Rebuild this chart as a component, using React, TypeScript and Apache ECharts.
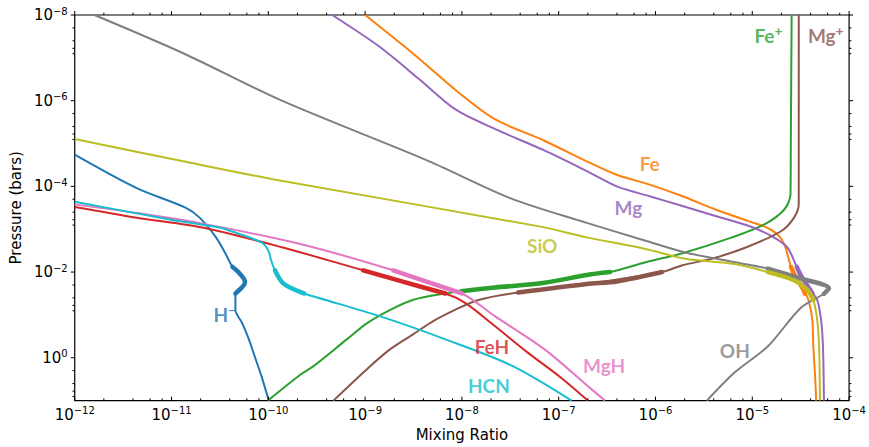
import React, { useEffect, useRef } from "react";
import * as echarts from "echarts";

// every point is [mixing ratio, pressure in bars]
type Pt = [number, number];

const X_MIN = 1e-12;
const X_MAX = 1e-4;
const P_MIN = 1e-8;
const P_MAX = 10;

const H_MINUS: Pt[] = [
  [1e-12, 1.82e-5], [4.37e-12, 1.1e-4], [1.41e-11, 3.16e-4], [1.95e-11, 5.37e-4],
  [2.88e-11, 1.55e-3], [3.63e-11, 3.8e-3], [4.27e-11, 7.6e-3], [4.9e-11, 1e-2],
  [5.75e-11, 1.7e-2], [4.57e-11, 3.16e-2], [4.57e-11, 7.6e-2], [5.37e-11, 0.155],
  [6.3e-11, 0.372], [7.24e-11, 0.933], [8.5e-11, 2.69], [1.01e-10, 10],
];
const H_MINUS_THICK: Pt[] = [[4.27e-11, 7.6e-3], [4.9e-11, 1e-2], [5.75e-11, 1.7e-2], [4.57e-11, 3.16e-2]];

const FE: Pt[] = [
  [1e-9, 1e-8], [3.1e-9, 7.8e-8], [9.3e-9, 6.5e-7], [2.19e-8, 2.7e-6], [7.1e-8, 8.6e-6],
  [1.95e-7, 2.6e-5], [3.98e-7, 5.37e-5], [8.7e-7, 9.1e-5], [1.9e-6, 1.7e-4],
  [4.17e-6, 3.47e-4], [9.1e-6, 6.46e-4], [1.35e-5, 8.7e-4], [1.82e-5, 1.32e-3],
  [2.14e-5, 2.24e-3], [2.51e-5, 7.6e-3], [2.7e-5, 1.1e-2], [3.39e-5, 2.63e-2],
  [3.8e-5, 4.47e-2], [4.17e-5, 0.129], [4.27e-5, 0.54], [4.47e-5, 3.09], [4.57e-5, 10],
];
const FE_THICK: Pt[] = [[2.51e-5, 7.6e-3], [2.7e-5, 1.1e-2], [3.39e-5, 2.63e-2], [3.5e-5, 3.2e-2]];

const FE_ION: Pt[] = [
  [9.9e-11, 10], [2.19e-10, 2.4], [2.95e-10, 1.55], [6.46e-10, 0.372], [1.05e-9, 0.155],
  [1.82e-9, 7.6e-2], [3.1e-9, 4.47e-2], [6.76e-9, 3.16e-2], [1.1e-8, 2.75e-2],
  [2.19e-8, 2.29e-2], [7.1e-8, 1.78e-2], [1.95e-7, 1.17e-2], [3.39e-7, 1e-2],
  [7.9e-7, 5.9e-3], [1.9e-6, 3.63e-3], [6.17e-6, 1.55e-3], [1.35e-5, 7.6e-4],
  [2.14e-5, 3.47e-4], [2.48e-5, 1.55e-4], [2.5e-5, 1e-5], [2.55e-5, 1e-8],
];
const FE_ION_THICK: Pt[] = [[9.8e-9, 2.8e-2], [2.19e-8, 2.29e-2], [7.1e-8, 1.78e-2], [1.95e-7, 1.17e-2], [3.39e-7, 1e-2]];

const FEH: Pt[] = [
  [1e-12, 3.02e-4], [4.37e-12, 5.37e-4], [2.09e-11, 9.1e-4], [1.38e-10, 2.63e-3],
  [9.55e-10, 9.1e-3], [6.76e-9, 3.16e-2], [1.1e-8, 5.37e-2], [2.19e-8, 0.182],
  [4.79e-8, 0.759], [1.05e-7, 2.88], [2.0e-7, 10],
];
const FEH_THICK: Pt[] = [[9.55e-10, 9.1e-3], [2.5e-9, 1.7e-2], [6.76e-9, 3.16e-2]];

const MG: Pt[] = [
  [4.57e-10, 1e-8], [1.41e-9, 5.5e-8], [3.63e-9, 3.16e-7], [8.5e-9, 1.58e-6],
  [2.19e-8, 4.57e-6], [7.1e-8, 1.45e-5], [1.95e-7, 4.4e-5], [3.98e-7, 1e-4],
  [8.7e-7, 1.7e-4], [1.9e-6, 2.88e-4], [4.17e-6, 4.9e-4], [9.1e-6, 8.3e-4],
  [1.55e-5, 1.41e-3], [2.29e-5, 2.63e-3], [2.88e-5, 7.6e-3], [3.24e-5, 1.29e-2],
  [3.98e-5, 2.63e-2], [4.68e-5, 4.47e-2], [5.13e-5, 0.129], [5.37e-5, 0.54], [5.5e-5, 10],
];
const MG_THICK: Pt[] = [[2.88e-5, 7.6e-3], [3.24e-5, 1.29e-2], [3.98e-5, 2.63e-2], [4.2e-5, 3.2e-2]];

const MG_ION: Pt[] = [
  [4.7e-10, 10], [1.05e-9, 1.82], [1.82e-9, 0.63], [3.1e-9, 0.288], [5.0e-9, 0.141],
  [8.5e-9, 7.6e-2], [1.48e-8, 4.47e-2], [3.24e-8, 3.16e-2], [1.95e-7, 1.9e-2],
  [1.17e-6, 1e-2], [1.9e-6, 6.9e-3], [3.8e-6, 4.9e-3], [8.7e-6, 2.63e-3],
  [2.0e-5, 1.1e-3], [2.7e-5, 5.37e-4], [3.02e-5, 2.63e-4], [3.02e-5, 1e-8],
];
const MG_ION_THICK: Pt[] = [[3.8e-8, 3.0e-2], [1.95e-7, 1.9e-2], [3.98e-7, 1.66e-2], [1.17e-6, 1e-2]];

const MGH: Pt[] = [
  [1e-12, 2.63e-4], [4.37e-12, 4.17e-4], [2.09e-11, 7.4e-4], [2.19e-10, 2.24e-3],
  [1.95e-9, 9.1e-3], [1e-8, 3.16e-2], [2.19e-8, 0.107], [7.1e-8, 0.63],
  [1.95e-7, 4.37], [3.0e-7, 10],
];
const MGH_THICK: Pt[] = [[1.95e-9, 9.1e-3], [4.37e-9, 1.7e-2], [1e-8, 3.16e-2]];

const OH: Pt[] = [
  [1.6e-12, 1e-8], [1.32e-11, 7.8e-8], [1.38e-10, 1e-6], [4.6e-9, 2.6e-5],
  [3.2e-8, 1.9e-4], [1.95e-7, 7.1e-4], [7.9e-7, 1.86e-3], [2.04e-6, 3.5e-3],
  [6.6e-6, 5.9e-3], [1.45e-5, 8.3e-3], [3.16e-5, 1.41e-2], [6.2e-5, 2.4e-2],
  [5.5e-5, 3.2e-2], [3.16e-5, 6.9e-2], [1.45e-5, 0.54], [6.6e-6, 2.19], [3.4e-6, 10],
];
const OH_THICK: Pt[] = [[1.45e-5, 8.3e-3], [3.16e-5, 1.41e-2], [6.2e-5, 2.4e-2], [5.5e-5, 3.2e-2]];

const SIO: Pt[] = [
  [1e-12, 7.8e-6], [1.32e-11, 2.6e-5], [1.36e-10, 7.4e-5], [6.5e-8, 8.7e-4],
  [1.95e-7, 1.55e-3], [7.9e-7, 2.88e-3], [2.04e-6, 4.9e-3], [6.6e-6, 6.5e-3],
  [1.45e-5, 1e-2], [2.7e-5, 1.55e-2], [3.7e-5, 2.6e-2], [4.27e-5, 4.5e-2],
  [4.68e-5, 0.129], [4.9e-5, 0.54], [5.0e-5, 10],
];
const SIO_THICK: Pt[] = [[1.45e-5, 1e-2], [2.7e-5, 1.55e-2], [3.7e-5, 2.6e-2], [4.27e-5, 4.5e-2]];

const HCN: Pt[] = [
  [1e-12, 2.29e-4], [9.55e-12, 5.9e-4], [3.09e-11, 9.1e-4], [4.57e-11, 1.2e-3],
  [8.5e-11, 2.04e-3], [1e-10, 3.16e-3], [1.07e-10, 5.37e-3], [1.17e-10, 9.1e-3],
  [1.38e-10, 1.7e-2], [1.74e-10, 2.4e-2], [2.34e-10, 3.16e-2], [1.41e-9, 0.107],
  [6.76e-9, 0.372], [3.24e-8, 1.51], [1.36e-7, 10],
];
const HCN_THICK: Pt[] = [[1.17e-10, 9.1e-3], [1.38e-10, 1.7e-2], [1.74e-10, 2.4e-2], [2.34e-10, 3.16e-2]];

// plotted in matplotlib's tab10 order
const SPECIES = [
  { name: "H-", color: "#1f77b4", line: H_MINUS, thick: H_MINUS_THICK },
  { name: "Fe", color: "#ff7f0e", line: FE, thick: FE_THICK },
  { name: "Fe+", color: "#2ca02c", line: FE_ION, thick: FE_ION_THICK },
  { name: "FeH", color: "#d62728", line: FEH, thick: FEH_THICK },
  { name: "Mg", color: "#9467bd", line: MG, thick: MG_THICK },
  { name: "Mg+", color: "#8c564b", line: MG_ION, thick: MG_ION_THICK },
  { name: "MgH", color: "#e377c2", line: MGH, thick: MGH_THICK },
  { name: "OH", color: "#7f7f7f", line: OH, thick: OH_THICK },
  { name: "SiO", color: "#bcbd22", line: SIO, thick: SIO_THICK },
  { name: "HCN", color: "#17becf", line: HCN, thick: HCN_THICK },
];

// curve labels, anchored at [mixing ratio, pressure]
const LABELS = [
  { text: "Fe", sup: "+", at: [1.47e-5, 2.95e-8], color: "#2ca02c" },
  { text: "Mg", sup: "+", at: [5.75e-5, 3.09e-8], color: "#8c564b" },
  { text: "Fe", sup: "", at: [8.7e-7, 2.88e-5], color: "#ff7f0e" },
  { text: "Mg", sup: "", at: [5.25e-7, 3.16e-4], color: "#9467bd" },
  { text: "SiO", sup: "", at: [6.76e-8, 2.4e-3], color: "#bcbd22" },
  { text: "OH", sup: "", at: [6.6e-6, 0.69], color: "#7f7f7f" },
  { text: "MgH", sup: "", at: [2.95e-7, 1.51], color: "#e377c2" },
  { text: "FeH", sup: "", at: [2.04e-8, 0.54], color: "#d62728" },
  { text: "HCN", sup: "", at: [1.9e-8, 4.47], color: "#17becf" },
  { text: "H", sup: "\u2212", at: [3.55e-11, 9.8e-2], color: "#1f77b4" },
];

const X_EXP = [-12, -11, -10, -9, -8, -7, -6, -5, -4];
const Y_EXP = [-8, -6, -4, -2, 0];
const MINOR_SUBS = [2, 4, 6, 8];

const TICK_FONT = "DejaVu Sans";

function powLabel(v: number, onlyEven: boolean) {
  const e = Math.round(Math.log10(v));
  if (onlyEven && e % 2 !== 0) return "";
  const s = e < 0 ? "\u2212" + -e : String(e);
  return `{b|10}{s|${s}}`;
}

const tickRich = {
  b: { fontFamily: TICK_FONT, fontSize: 15, color: "#000" },
  s: { fontFamily: TICK_FONT, fontSize: 10, color: "#000", padding: [0, 0, 8, 0] },
};

export default function App() {
  const ref = useRef<HTMLDivElement | null>(null);

  useEffect(() => {
    if (!ref.current) return;
    const chart = echarts.init(ref.current, null, { renderer: "svg" });

    const lineSeries: any[] = [];
    SPECIES.forEach((sp) => {
      lineSeries.push({
        type: "line",
        name: sp.name,
        data: sp.line,
        showSymbol: false,
        symbol: "none",
        smooth: 0.3,
        silent: true,
        lineStyle: { width: 2, color: sp.color },
        z: 3,
      });
      lineSeries.push({
        type: "line",
        name: sp.name + " thick",
        data: sp.thick,
        showSymbol: false,
        symbol: "none",
        smooth: 0.3,
        silent: true,
        lineStyle: { width: 4.5, color: sp.color, cap: "round" },
        z: 4,
      });
    });

    const labelSeries = LABELS.map((l) => ({
      type: "scatter",
      data: [l.at],
      symbolSize: 0,
      silent: true,
      z: 10,
      label: {
        show: true,
        position: "inside",
        formatter: l.sup ? `{b|${l.text}}{s|${l.sup}}` : `{b|${l.text}}`,
        rich: {
          b: { fontFamily: "Lato", fontWeight: "bold", fontSize: 19, color: l.color },
          s: { fontFamily: "Lato", fontWeight: "bold", fontSize: 14, color: l.color, padding: [0, 0, 10, 0] },
        },
      },
    }));

    chart.setOption({
      animation: false,
      backgroundColor: "#fff",
      grid: {
        left: 70,
        right: 13,
        top: 15,
        bottom: 43,
        show: true,
        borderColor: "#000",
        borderWidth: 1.2,
        backgroundColor: "transparent",
      },
      xAxis: {
        type: "log",
        logBase: 10,
        min: X_MIN,
        max: X_MAX,
        name: "Mixing Ratio",
        nameLocation: "middle",
        nameGap: 22,
        nameTextStyle: { fontFamily: TICK_FONT, fontSize: 15, color: "#000" },
        axisLine: { show: false },
        axisTick: { show: false },
        splitLine: { show: false },
        axisLabel: {
          margin: 5,
          formatter: (v: number) => powLabel(v, false),
          rich: tickRich,
        },
      },
      yAxis: {
        type: "log",
        logBase: 10,
        min: P_MIN,
        max: P_MAX,
        inverse: true,
        name: "Pressure (bars)",
        nameLocation: "middle",
        nameGap: 43,
        nameTextStyle: { fontFamily: TICK_FONT, fontSize: 15, color: "#000" },
        axisLine: { show: false },
        axisTick: { show: false },
        splitLine: { show: false },
        axisLabel: {
          margin: 7,
          formatter: (v: number) => powLabel(v, true),
          rich: tickRich,
        },
      },
      series: [...lineSeries, ...labelSeries],
    });

    // matplotlib-style ticks: minor ticks at 2,4,6,8 per labelled decade
    const xp = (v: number) => chart.convertToPixel({ xAxisIndex: 0 }, v) as number;
    const yp = (v: number) => chart.convertToPixel({ yAxisIndex: 0 }, v) as number;
    const left = xp(X_MIN);
    const right = xp(X_MAX);
    const top = yp(P_MIN);
    const bottom = yp(P_MAX);
    const MAJ = 4;
    const MIN = 2.3;
    const g: any[] = [];
    const tick = (x1: number, y1: number, x2: number, y2: number) =>
      g.push({
        type: "line",
        silent: true,
        z: 20,
        shape: { x1, y1, x2, y2 },
        style: { stroke: "#000", lineWidth: 1 },
      });

    X_EXP.forEach((e) => {
      const px = xp(Math.pow(10, e));
      tick(px, bottom, px, bottom - MAJ);
      tick(px, top, px, top - MAJ);
      if (e < -4) {
        MINOR_SUBS.forEach((m) => {
          const mx = xp(m * Math.pow(10, e));
          tick(mx, bottom, mx, bottom - MIN);
          tick(mx, top, mx, top - MIN);
        });
      }
    });
    Y_EXP.forEach((e) => {
      const py = yp(Math.pow(10, e));
      tick(left - MAJ, py, left, py);
      tick(right, py, right + MAJ, py);
      MINOR_SUBS.forEach((m) => {
        const my = yp(m * Math.pow(10, e));
        tick(left - MIN, my, left, my);
        tick(right, my, right + MIN, my);
      });
    });

    chart.setOption({ graphic: g });

    return () => chart.dispose();
  }, []);

  return (
    <div
      ref={ref}
      style={{ position: "fixed", left: 0, top: 0, width: 869, height: 447, background: "#fff" }}
    />
  );
}
